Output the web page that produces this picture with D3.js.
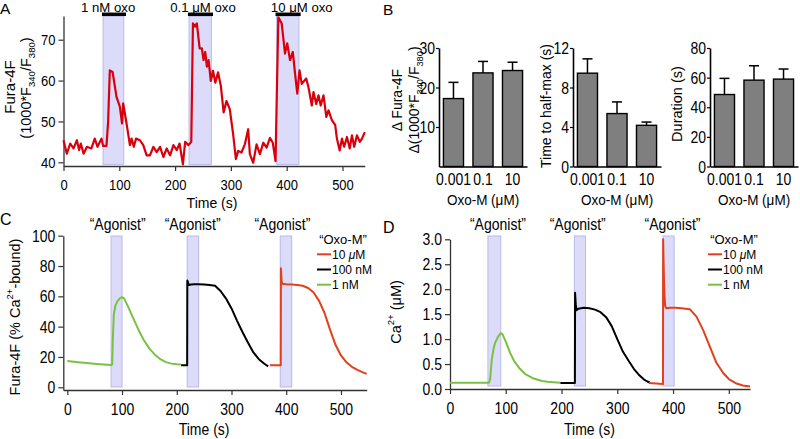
<!DOCTYPE html>
<html><head><meta charset="utf-8">
<script src="https://cdn.jsdelivr.net/npm/d3@7"></script>
<style>body{margin:0;background:#fff}svg{display:block}</style>
</head><body><svg id="c" width="800" height="439"></svg>
<script>
// ---------- Panel A data ----------
const timeA = [0,6,12,18,24,28,31,36,42,50,56,61,68,71,77,80,83,88,95,101,105,107,113,119,122,126,130,137,143,149,155,161,167,173,179,185,191,197,203,208,214,218,224,229,232,236,239,244,248,251,254,257,260,264,268,272,277,282,287,292,298,304,309,313,319,325,331,334,340,346,352,358,364,370,375,380,385,391,397,401,406,411,415,419,423,427,435,439,445,448,453,457,461,466,471,475,481,487,490,495,499,503,508,513,517,521,526,531,535,540];
const fluoA = [45.4,42.1,44.6,43.4,45.4,43,44.6,42.1,43.8,43.4,45.8,43.8,45.8,44,44,50,62.5,62.1,56,53.6,49.5,54.4,49.5,44.2,45.8,43.8,45.8,45.4,44.2,41.7,41.7,43.8,42.5,43.8,41.3,43.4,41.7,44.2,43,44.6,39.5,45,44.2,45,74,73.2,74,67.9,67.9,65,67,63.4,65,59.9,62.4,59.5,62,58.7,52.2,55,53,46.9,40.8,42.8,42.4,44.4,48.1,42,39.9,44.4,42,44.8,43.6,46,44.8,40.3,75.5,74,66.6,69.1,65,67,61.7,56.8,62.5,59.2,60.5,58.4,53.9,57.2,54.3,56.4,53.9,56.4,51.1,52.7,50.3,49.1,45.8,42.9,45.8,43.8,46.2,43.4,46.6,43.8,46.6,45,45.8,47.4];
const shadeA = [[71,108],[225,265],[382,422]];
const barA = [[69,112],[223,268],[380,425]];
const labelA = ["1 nM oxo","0.1 \u03bcM oxo","10 \u03bcM oxo"];
const labelTimeA = [80,250,427];
const ticksAx = [0,100,200,300,400,500];
const ticksAy = [40,50,60,70];

// ---------- Panel B data ----------
const concB = ["0.001","0.1","10"];
const deltaFura = [17.2,23.7,24.3];
const deltaFuraSem = [4.1,2.9,2.1];
const halfMax = [9.45,5.36,4.17];
const halfMaxSem = [1.45,1.18,0.33];
const duration = [48.6,58.3,59.0];
const durationSem = [10.9,9.7,6.8];

// ---------- Panel C data ----------
const greenC = [[0,17.3],[20,16.5],[40,15.8],[60,15.2],[80,14.7],[82,15],[83,30],[85,48],[88,54],[92,57],[96,58.7],[100,59.5],[104,58.5],[110,54],[120,46],[130,38],[140,31],[150,25.5],[160,21.5],[170,18.5],[180,16.6],[190,15.6],[200,15.2],[208,15]];
const blackC = [[208,14.5],[219,14.5],[219.3,70.5],[222,67.5],[226,67.8],[232,68],[240,68],[250,67.8],[260,67.5],[270,67],[280,63.5],[290,58.5],[300,52],[310,44],[320,36.5],[330,29.5],[340,23],[350,18.5],[360,15.5],[367,13.8]];
const redC = [[370,14.5],[390,14.5],[390.3,78.5],[391.5,70],[393,68.3],[400,68],[410,67.8],[420,67.5],[430,67],[440,65.5],[450,62.5],[460,57],[470,49],[480,38],[490,28],[500,21],[510,16.5],[520,13.5],[530,11.5],[540,9.8],[547,8.8]];
const shadeC = [[80,100],[219,240],[389,410]];
const agonistTimeC = [92,229,393];
const ticksC = [0,20,40,60,80,100];

// ---------- Panel D data ----------
const greenD = [[0,0.125],[20,0.125],[40,0.125],[60,0.125],[70,0.125],[72,0.2],[75,0.6],[78,0.8],[81,0.93],[85,1.02],[88,1.08],[91,1.12],[94,1.1],[100,0.95],[108,0.72],[115,0.56],[125,0.41],[135,0.3],[150,0.21],[165,0.16],[175,0.145],[185,0.135],[198,0.125]];
const blackD = [[198,0.12],[224,0.12],[224.3,1.93],[225.5,1.7],[227,1.58],[230,1.61],[240,1.63],[250,1.62],[260,1.59],[270,1.54],[280,1.44],[290,1.26],[300,1.0],[310,0.75],[320,0.57],[330,0.4],[340,0.27],[348,0.19],[354,0.15],[358,0.13]];
const redD = [[357,0.12],[370,0.11],[382,0.1],[382.2,3.0],[383,2.55],[384,2.1],[385,1.8],[386,1.66],[388,1.62],[395,1.63],[405,1.63],[415,1.62],[430,1.6],[442,1.45],[454,1.18],[466,0.85],[478,0.52],[490,0.32],[500,0.2],[514,0.11],[525,0.07],[538,0.05]];
const shadeD = [[68,91],[223,243],[382,402]];
const agonistTimeD = [86,229,399];
const ticksD = [0,0.5,1.0,1.5,2.0,2.5,3.0];
const ticksTime = [0,100,200,300,400,500];
const legendLabels = ["10 \u03bcM","100 nM","1 nM"];

// ---------- drawing ----------
const FONT = "'Liberation Sans', Arial, Helvetica, sans-serif";
const S = 1.12; // slight vertical stretch of horizontal text, as in the reference
const svg = d3.select("#c");
const AX = "#333";
const SHADE_FILL = "#dcdcfa", SHADE_STROKE = "#b9b9ea";
const GREEN = "#79c143", RED2 = "#e2401c";

function styleAxis(g, fs, orient){
  g.select(".domain").attr("stroke",AX).attr("stroke-width",1.3);
  g.selectAll(".tick line").attr("stroke",AX).attr("stroke-width",1.2);
  g.selectAll(".tick text").each(function(){
    const t = d3.select(this);
    t.attr("font-family",FONT).attr("font-size",fs).attr("fill","#000");
    if(orient==="bottom"){
      const y0 = +t.attr("y");
      t.attr("y",null).attr("dy",null)
       .attr("transform",`translate(0,${y0+0.716*fs*S}) scale(1,${S})`);
    } else {
      const x0 = +t.attr("x");
      t.attr("x",null).attr("dy",null)
       .attr("transform",`translate(${x0},${0.358*fs*S}) scale(1,${S})`);
    }
  });
}
function text(x,y,s,fs,anchor,sy){
  return svg.append("text").attr("transform",`translate(${x},${y}) scale(1,${sy||S})`).attr("font-family",FONT)
    .attr("font-size",fs).attr("text-anchor",anchor||"start").attr("fill","#000").text(s);
}
function rotLabel(x,y,parts,fs){
  const t = svg.append("text").attr("transform",`translate(${x},${y}) rotate(-90)`)
    .attr("text-anchor","middle").attr("font-family",FONT).attr("font-size",fs).attr("fill","#000");
  let shift = 0;
  parts.forEach(p=>{
    const sp = t.append("tspan").text(p.t);
    const target = p.sub ? fs*0.25 : (p.sup ? -fs*0.45 : 0);
    sp.attr("dy", target - shift); shift = target;
    if(p.sub||p.sup) sp.attr("font-size", fs*0.66);
  });
  return t;
}

// ===== Panel A =====
const xA = d3.scaleLinear().domain([0,540]).range([63.5,364.8]);
const yA = d3.scaleLinear().domain([39.1,75.8]).range([166,16]);
svg.append("g").selectAll("rect").data(shadeA).join("rect")
  .attr("x",d=>xA(d[0])).attr("width",d=>xA(d[1])-xA(d[0]))
  .attr("y",yA(75.8)).attr("height",yA(39.5)-yA(75.8))
  .attr("fill",SHADE_FILL).attr("stroke",SHADE_STROKE).attr("stroke-width",1);
svg.append("g").selectAll("line").data(barA).join("line")
  .attr("x1",d=>xA(d[0])).attr("x2",d=>xA(d[1])).attr("y1",14.3).attr("y2",14.3)
  .attr("stroke","#000").attr("stroke-width",3.5);
labelA.forEach((s,i)=>text(xA(labelTimeA[i]),11.5,s,13.2,"middle",1));
const gAx = svg.append("g").attr("transform","translate(0,166)")
  .call(d3.axisBottom(xA).tickValues(ticksAx).tickSize(5).tickPadding(8.5).tickSizeOuter(0));
styleAxis(gAx,13,"bottom");
const gAy = svg.append("g").attr("transform","translate(63.5,0)")
  .call(d3.axisLeft(yA).tickValues(ticksAy).tickSize(5).tickPadding(3).tickSizeOuter(0));
styleAxis(gAy,13,"left");
svg.append("path").datum(timeA.map((t,i)=>[t,fluoA[i]]))
  .attr("d",d3.line().x(d=>xA(d[0])).y(d=>yA(d[1])))
  .attr("fill","none").attr("stroke","#d9000d").attr("stroke-width",2.2).attr("stroke-linejoin","round");
text(212,207.5,"Time (s)",14,"middle",1);
rotLabel(14.5,87,[{t:"Fura-4F"}],15);
rotLabel(31,88,[{t:"(1000*F"},{t:"340",sub:true},{t:"/F"},{t:"380",sub:true},{t:")"}],14.5);
text(0,14.3,"A",15.5,"start",1);

// ===== Panel B =====
function barPanel(axisX, yMax, ticks, vals, sems){
  const x = d3.scaleBand().domain(concB).range([axisX,axisX+88]).paddingInner(0.32).paddingOuter(0.15);
  const y = d3.scaleLinear().domain([0,yMax]).range([166.5,48]);
  const cx = i=>x(concB[i])+x.bandwidth()/2;
  const g = svg.append("g");
  g.selectAll("line.err").data(vals).join("line").attr("class","err")
    .attr("x1",(d,i)=>cx(i)).attr("x2",(d,i)=>cx(i))
    .attr("y1",d=>y(d)).attr("y2",(d,i)=>y(d+sems[i])).attr("stroke","#000").attr("stroke-width",1.5);
  g.selectAll("line.cap").data(vals).join("line").attr("class","cap")
    .attr("x1",(d,i)=>cx(i)-5).attr("x2",(d,i)=>cx(i)+5)
    .attr("y1",(d,i)=>y(d+sems[i])).attr("y2",(d,i)=>y(d+sems[i])).attr("stroke","#000").attr("stroke-width",1.5);
  g.selectAll("rect").data(vals).join("rect")
    .attr("x",(d,i)=>x(concB[i])).attr("width",x.bandwidth())
    .attr("y",d=>y(d)).attr("height",d=>y(0)-y(d))
    .attr("fill","#7f7f7f").attr("stroke","#000").attr("stroke-width",1.4);
  const gx = svg.append("g").attr("transform","translate(0,166.5)")
    .call(d3.axisBottom(x).tickSize(0).tickPadding(7));
  styleAxis(gx,14,"bottom");
  gx.select(".domain").attr("stroke","#000").attr("stroke-width",1.6);
  const gy = svg.append("g").attr("transform",`translate(${axisX},0)`)
    .call(d3.axisLeft(y).tickValues(ticks).tickSize(3).tickPadding(1).tickSizeOuter(0));
  styleAxis(gy,14,"left");
  gy.select(".domain").attr("stroke","#000").attr("stroke-width",1.6);
  gy.selectAll(".tick line").attr("stroke","#000");
  text(axisX+44,205,"Oxo-M (\u03bcM)",13.5,"middle");
}
barPanel(439,30,[10,20,30],deltaFura,deltaFuraSem);
barPanel(573,12,[0,4,8,12],halfMax,halfMaxSem);
barPanel(710,80,[0,20,40,60,80],duration,durationSem);
rotLabel(402,100,[{t:"\u0394 Fura-4F"}],14);
rotLabel(419,100,[{t:"\u0394(1000*F"},{t:"340",sub:true},{t:"/F"},{t:"380",sub:true},{t:")"}],14);
rotLabel(551,106,[{t:"Time to half-max (s)"}],14);
rotLabel(682,104,[{t:"Duration (s)"}],14.5);
text(383,15,"B",15.5,"start",1);

// ===== Panels C & D =====
function tracePanel(xs, ys, shades, agTimes, series, legendX, yTicks, yFmt, xAxisY, yAxisX){
  svg.append("g").selectAll("rect").data(shades).join("rect")
    .attr("x",d=>xs(d[0])).attr("width",d=>xs(d[1])-xs(d[0]))
    .attr("y",236).attr("height",xAxisY-3-236)
    .attr("fill",SHADE_FILL).attr("stroke",SHADE_STROKE).attr("stroke-width",1);
  agTimes.forEach(t=>text(xs(t),230,"\u201cAgonist\u201d",14,"middle"));
  const gx = svg.append("g").attr("transform",`translate(0,${xAxisY})`)
    .call(d3.axisBottom(xs).tickValues(ticksTime).tickSize(5).tickPadding(8.5).tickSizeOuter(0));
  styleAxis(gx,14,"bottom");
  const gy = svg.append("g").attr("transform",`translate(${yAxisX},0)`)
    .call(d3.axisLeft(ys).tickValues(yTicks).tickFormat(yFmt).tickSize(5).tickPadding(3).tickSizeOuter(0));
  styleAxis(gy,14,"left");
  const line = d3.line().x(d=>xs(d[0])).y(d=>ys(d[1]));
  series.forEach(s=>svg.append("path").datum(s.data).attr("d",line)
    .attr("fill","none").attr("stroke",s.color).attr("stroke-width",2).attr("stroke-linejoin","round"));
  text(legendX+26,244,"\u201cOxo-M\u201d",13,"middle",1.05);
  const cols = [RED2,"#000",GREEN];
  legendLabels.forEach((l,i)=>{
    const yy = 254.3 + i*15.2;
    svg.append("line").attr("x1",legendX).attr("x2",legendX+14).attr("y1",yy).attr("y2",yy)
      .attr("stroke",cols[i]).attr("stroke-width",2);
    const t = svg.append("text").attr("transform",`translate(${legendX+15},${yy+4.4})`)
      .attr("font-family",FONT).attr("font-size",12).attr("fill","#000");
    if(i===0){ t.append("tspan").text("10 "); t.append("tspan").attr("font-style","italic").text("\u03bc"); t.append("tspan").text("M"); }
    else t.text(l);
  });
  text(xs(250),435,"Time (s)",14,"middle");
}
const xC = d3.scaleLinear().domain([-7.3,547]).range([63.3,366.7]);
const yC = d3.scaleLinear().domain([-1.8,100]).range([390,235.7]);
tracePanel(xC,yC,shadeC,agonistTimeC,
  [{data:greenC,color:GREEN},{data:blackC,color:"#000"},{data:redC,color:RED2}],
  317,ticksC,d3.format("d"),390,63.3);
rotLabel(20,317,[{t:"Fura-4F (% Ca"},{t:"2+",sup:true},{t:"-bound)"}],14.5);
text(0,225,"C",16,"start",1.05);

const xD = d3.scaleLinear().domain([0,538]).range([450,750]);
const yD = d3.scaleLinear().domain([0,3]).range([389,239.3]);
tracePanel(xD,yD,shadeD,agonistTimeD,
  [{data:greenD,color:GREEN},{data:blackD,color:"#000"},{data:redD,color:RED2}],
  708,ticksD,d3.format(".1f"),389,450);
rotLabel(401,312,[{t:"Ca"},{t:"2+",sup:true},{t:" (\u03bcM)"}],14.5);
text(383,233,"D",16,"start",1.05);
</script></body></html>
